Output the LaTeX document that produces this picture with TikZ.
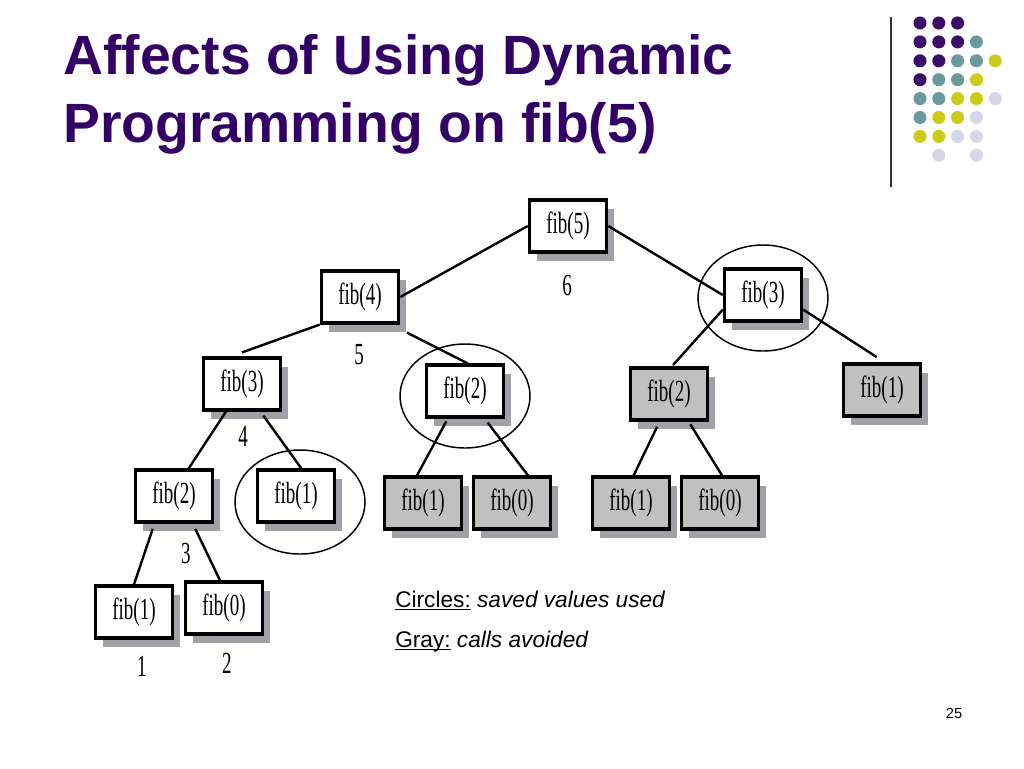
\documentclass[tikz,border=0pt]{standalone}
\usepackage{fontspec}
\setmainfont{Liberation Sans}
\newfontfamily\boxfont[FakeStretch=0.62]{Liberation Serif}
\usetikzlibrary{positioning, shadows}
\definecolor{titlepurple}{RGB}{51,0,102}
\definecolor{dotP}{RGB}{59,12,104}
\definecolor{dotT}{RGB}{106,154,158}
\definecolor{dotY}{RGB}{204,204,24}
\definecolor{dotL}{RGB}{214,214,234}
\definecolor{shade}{RGB}{160,160,166}
\definecolor{avoidgray}{RGB}{192,192,192}
\tikzset{
	x=0.75pt, y=-0.75pt, % one unit is one pixel of the slide
	call/.style={draw, line width=2.4pt, fill=white, minimum width=58pt, minimum height=39pt, inner sep=0pt,
		font=\boxfont\fontsize{23}{23}\selectfont,
		drop shadow={shadow xshift=5.5pt, shadow yshift=-6.5pt, fill=shade, opacity=1}}, % one call of fib
	avoided/.style={call, fill=avoidgray}, % gray: a call that is not made
	order/.style={font=\boxfont\fontsize{23}{23}\selectfont, inner sep=0pt}, % order in which calls end
	link/.style={line width=1.8pt}, % edges of the call tree
	saved/.style={line width=1.1pt}, % circles round saved values
}

\begin{document}
\begin{tikzpicture}
	\useasboundingbox[fill=white] (0,0) rectangle (1024,768);
	% title
	\node[anchor=base west, inner sep=0pt, text=titlepurple, font=\bfseries\fontsize{41.5}{41.5}\selectfont] (title1) at (63,74) {Affects of Using Dynamic};
	\node[anchor=base west, inner sep=0pt, text=titlepurple, font=\bfseries\fontsize{41.5}{41.5}\selectfont] (title2) at (63,142) {Programming on fib(5)};
	% corner decoration
	\draw[line width=0.8pt, black!80] (891,17) -- (891,187);
	\foreach \c/\r/\col in {0/0/dotP, 1/0/dotP, 2/0/dotP,
			0/1/dotP, 1/1/dotP, 2/1/dotP, 3/1/dotT,
			0/2/dotP, 1/2/dotP, 2/2/dotT, 3/2/dotT, 4/2/dotY,
			0/3/dotP, 1/3/dotT, 2/3/dotT, 3/3/dotY,
			0/4/dotT, 1/4/dotT, 2/4/dotY, 3/4/dotY, 4/4/dotL,
			0/5/dotT, 1/5/dotY, 2/5/dotY, 3/5/dotL,
			0/6/dotY, 1/6/dotY, 2/6/dotL, 3/6/dotL,
			1/7/dotL, 3/7/dotL}
		\fill[\col] ({920+18.8*\c},{23+18.9*\r}) circle (4.9pt);
	% call tree
	\node[call] (f5) at (568,226) {fib(5)};
	\node[call] (f4) at (360,297) {fib(4)};
	\node[call] (f3r) at (763,295) {fib(3)};
	\node[call] (f3l) at (242,384) {fib(3)};
	\node[call] (f2m) at (465,391) {fib(2)};
	\node[avoided] (f2g) at (669,394) {fib(2)};
	\node[avoided] (f1g) at (882,390) {fib(1)};
	\node[call] (f2l) at (174,496) {fib(2)};
	\node[call] (f1c) at (296,496) {fib(1)};
	\node[avoided] (f1a) at (423,503) {fib(1)};
	\node[avoided] (f0a) at (512,503) {fib(0)};
	\node[avoided] (f1b) at (631,503) {fib(1)};
	\node[avoided] (f0b) at (720,503) {fib(0)};
	\node[call] (f1d) at (134,612) {fib(1)};
	\node[call] (f0d) at (224,608) {fib(0)};
	% order labels
	\node[order] (n6) at (567,285) {6};
	\node[order] (n5) at (359,355) {5};
	\node[order] (n4) at (243,436) {4};
	\node[order] (n3) at (186,553) {3};
	\node[order] (n1) at (142,666) {1};
	\node[order] (n2) at (227,663) {2};
	% edges
	\draw[link] (f5.west) -- (f4.east);
	\draw[link] (f5.east) -- (f3r.west);
	\draw[link] (f4.south west) -- ([yshift=3pt]f3l.north);
	\draw[link] ([shift={(5pt,-6pt)}]f4.south east) -- ([xshift=2pt]f2m.north);
	\draw[link] (f3r.200) -- ([xshift=3pt,yshift=1pt]f2g.north);
	\draw[link] (f3r.-20) -- ([xshift=-4pt,yshift=4pt]f1g.north);
	\draw[link] ([xshift=-12pt]f3l.south) -- ([xshift=11pt]f2l.north);
	\draw[link] ([xshift=16pt,yshift=-3pt]f3l.south) -- ([xshift=4pt]f1c.north);
	\draw[link] ([xshift=-14pt,yshift=-2pt]f2m.south) -- ([xshift=-4.5pt]f1a.north);
	\draw[link] ([xshift=17pt,yshift=-3pt]f2m.south) -- ([xshift=12pt]f0a.north);
	\draw[link] ([xshift=-9pt,yshift=-4pt]f2g.south) -- ([xshift=2pt]f1b.north);
	\draw[link] ([xshift=16pt,yshift=-2pt]f2g.south) -- ([xshift=1.5pt]f0b.north);
	\draw[link] ([xshift=-16pt,yshift=-4pt]f2l.south) -- (f1d.north);
	\draw[link] ([xshift=16pt,yshift=-4pt]f2l.south) -- ([xshift=-3pt]f0d.north);
	% saved values
	\draw[saved] (763,298) ellipse [x radius=48.75pt, y radius=39.75pt];
	\draw[saved] (465,396) ellipse [x radius=48.75pt, y radius=39pt];
	\draw[saved] (300,502) ellipse [x radius=48.75pt, y radius=39pt];
	% legend
	\node[anchor=base west, inner sep=0pt, font=\fontsize{17}{17}\selectfont] (key1) at (395,607) {\underline{\smash{Circles:}} \textit{saved values used}};
	\node[anchor=base west, inner sep=0pt, font=\fontsize{17}{17}\selectfont] (key2) at (395,647) {\underline{\smash{Gray:}} \textit{calls avoided}};
	\node[font=\fontsize{11}{11}\selectfont] (page) at (954,713) {25};
\end{tikzpicture}
\end{document}
